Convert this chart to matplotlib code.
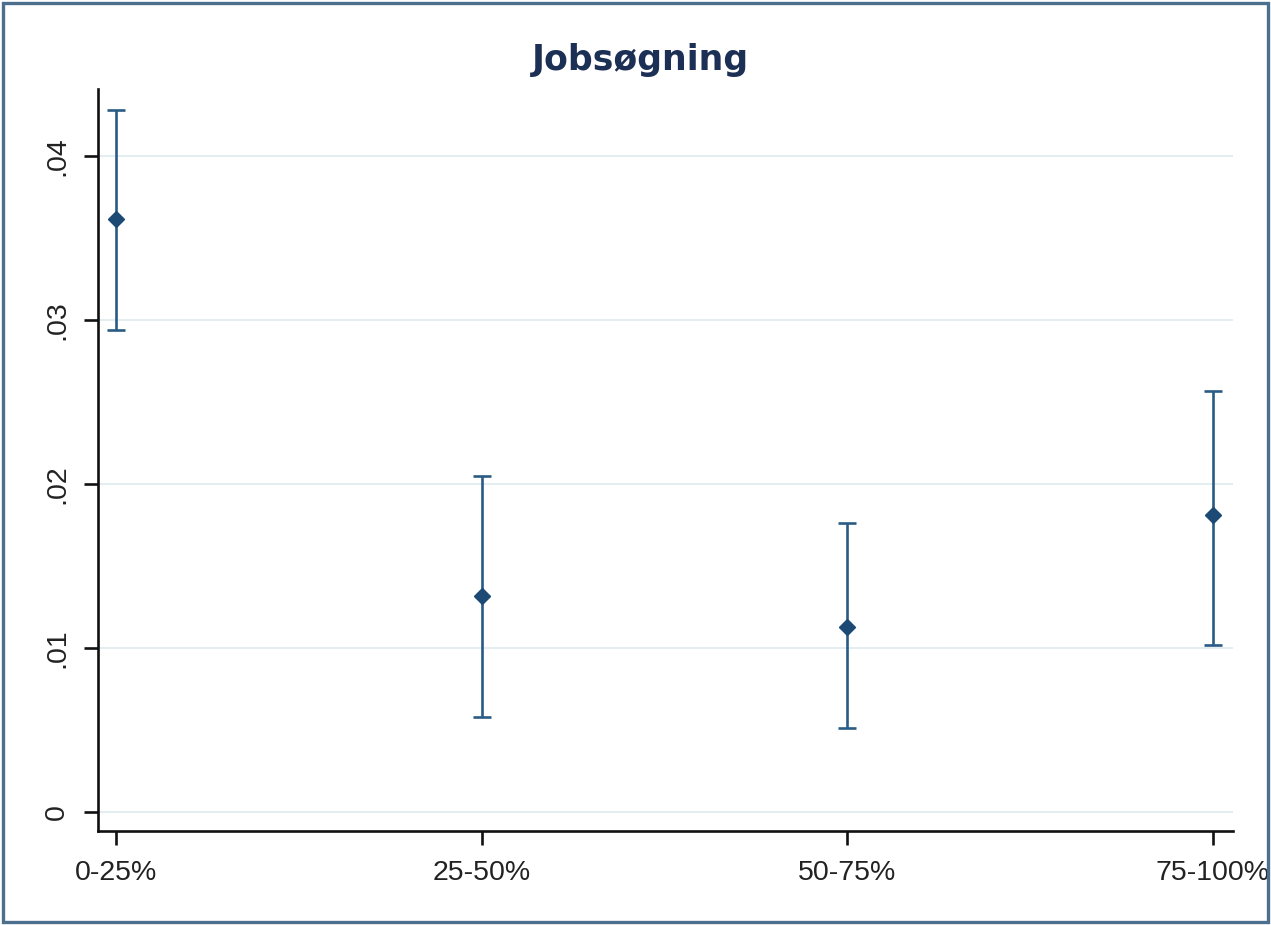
import matplotlib
matplotlib.use("Agg")
import matplotlib.pyplot as plt
from matplotlib.patches import Rectangle

categories = ["0-25%", "25-50%", "50-75%", "75-100%"]
estimates = [0.0362, 0.0132, 0.0113, 0.0181]
lower = [0.0294, 0.0058, 0.0051, 0.0102]
upper = [0.0428, 0.0205, 0.0176, 0.0257]
yticks = [0, 0.01, 0.02, 0.03, 0.04]
yticklabels = ["0", ".01", ".02", ".03", ".04"]
title = "Jobsøgning"

plt.rcParams['font.family'] = ['Liberation Sans', 'DejaVu Sans']

fig = plt.figure(figsize=(12.71, 9.25), dpi=100)
ax = fig.add_axes([0.0771, 0.1016, 0.893, 0.8022])

x = list(range(len(categories)))
err_lo = [e - l for e, l in zip(estimates, lower)]
err_hi = [u - e for e, u in zip(estimates, upper)]
col = "#1d4a74"
ax.errorbar(x, estimates, yerr=[err_lo, err_hi], fmt="D", color="#2a5b84",
            ecolor="#2a5b84", elinewidth=1.9, capsize=6.5, capthick=1.9,
            markersize=8.5, markerfacecolor=col, markeredgecolor=col, zorder=3)

ax.set_xlim(-0.049, 3.055)
ax.set_ylim(-0.00116, 0.0441)
ax.set_xticks(x)
ax.set_xticklabels(categories)
ax.set_yticks(yticks)
ax.set_yticklabels(yticklabels, rotation=90, va="center")
ax.grid(axis="y", color="#e2eef0", linewidth=1.4, zorder=0)
ax.set_axisbelow(True)
for s in ["top", "right"]:
    ax.spines[s].set_visible(False)
for s in ["left", "bottom"]:
    ax.spines[s].set_linewidth(1.9)
    ax.spines[s].set_color("#111111")
ax.tick_params(axis="both", length=10, width=1.9, color="#111111",
               labelsize=20.5, labelcolor="#222222")
ax.tick_params(axis="x", pad=11)
ax.tick_params(axis="y", pad=10)

fig.text(0.5038, 0.935, title, ha="center", va="center", fontsize=25,
         fontweight="bold", color="#1c2f55", family=["DejaVu Sans"])

frame = Rectangle((0.0024, 0.0032), 0.9952, 0.9935, transform=fig.transFigure,
                  fill=False, edgecolor="#4d6f8e", linewidth=2.4, zorder=10)
fig.patches.append(frame)
# white band outside the frame to clip overflowing labels
fig.patches.append(Rectangle((0.9976, 0), 0.01, 1, transform=fig.transFigure,
                             facecolor="white", edgecolor="none", zorder=9))

fig.savefig("out.png", dpi=100, facecolor="white")
